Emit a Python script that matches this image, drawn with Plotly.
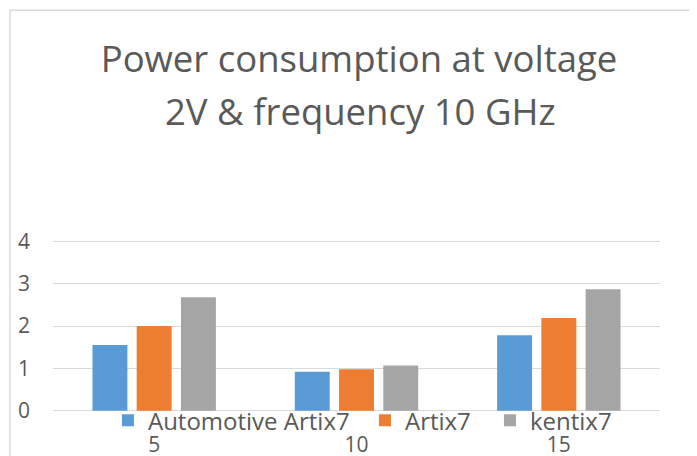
import plotly.graph_objects as go

categories = ["5", "10", "15"]
series_names = ["Automotive Artix7", "Artix7", "kentix7"]
automotive_artix7 = [1.55, 0.92, 1.78]
artix7 = [2.0, 0.98, 2.19]
kentix7 = [2.68, 1.07, 2.87]
colors = ["#5B9BD5", "#ED7D31", "#A5A5A5"]
legend_widths = [212, 80, 80]
title_line1 = "Power consumption at voltage"
title_line2 = "2V & frequency 10 GHz"
y_range = [-0.03, 4.03]

# the page body has an 8px margin; work in page pixels and convert
OFF = 8
W, H = 697 - OFF, 456
unit = (411 - 241.7) / 4.0  # page px per value unit (0 at 411, 4 at 241.7)
plot_left, plot_right = 53, 660.5
plot_top = 241.7 - (y_range[1] - 4) * unit
plot_bottom = 411 - y_range[0] * unit
L = plot_left - OFF
R = W - (plot_right - OFF)
T = plot_top - OFF
B = H - (plot_bottom - OFF)
pw = W - L - R
ph = H - T - B


def px_x(x):
    return (x - plot_left) / pw


def px_y(y):
    return (plot_bottom - y) / ph


FONT = "Open Sans"
TXT = "#595959"

fig = go.Figure()
for name, vals, col, lw in zip(series_names, [automotive_artix7, artix7, kentix7], colors, legend_widths):
    fig.add_trace(go.Bar(x=categories, y=vals, name=name, marker=dict(color=col, line=dict(width=0)),
                         legendwidth=lw))

fig.update_layout(
    width=W, height=H,
    margin=dict(l=L, r=R, t=T, b=B, autoexpand=False),
    paper_bgcolor="white", plot_bgcolor="white",
    barmode="group", bargap=0.344, bargroupgap=0.21,
    font=dict(family=FONT, color=TXT),
    showlegend=True,
    legend=dict(orientation="h", x=px_x(108), xanchor="left", y=px_y(421), yanchor="middle",
                font=dict(size=24, color=TXT, family=FONT), bgcolor="rgba(0,0,0,0)",
                traceorder="normal"),
    title=dict(text=title_line1, x=(359 - OFF) / W, xanchor="center", xref="container",
               y=1 - (59 - OFF) / H, yanchor="middle", yref="container",
               font=dict(size=36.5, color=TXT, family=FONT)),
    annotations=[dict(text=title_line2, x=px_x(361), y=px_y(112), xref="paper", yref="paper",
                      xanchor="center", yanchor="middle", showarrow=False,
                      font=dict(size=36.5, color=TXT, family=FONT))],
    shapes=[dict(type="rect", xref="paper", yref="paper",
                 x0=px_x(10), x1=px_x(705), y0=px_y(475), y1=px_y(11),
                 line=dict(color="#D9D9D9", width=1.5), layer="below")],
)
fig.update_xaxes(type="category", showgrid=False, showline=False, zeroline=False, ticks="",
                 tickfont=dict(size=21, color=TXT, family=FONT), ticklabelstandoff=18)
fig.update_yaxes(range=y_range, tickvals=[0, 1, 2, 3, 4], showgrid=True, gridcolor="#D9D9D9",
                 gridwidth=1, zeroline=False, showline=False, ticks="",
                 tickfont=dict(size=21, color=TXT, family=FONT), ticklabelstandoff=22)

fig.write_html("out.html")
